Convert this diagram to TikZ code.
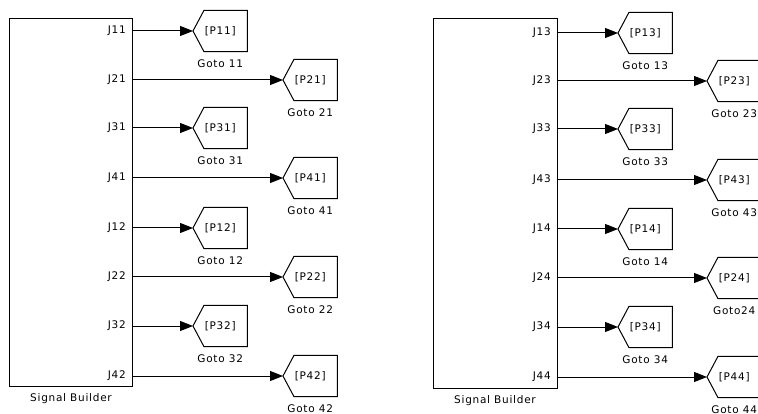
\documentclass[tikz,border=0pt]{standalone}
\usepackage{fontspec}
\newfontfamily\simfont[LetterSpace=7]{DejaVu Sans}
\usetikzlibrary{arrows.meta,positioning}
\tikzset{
  sigblk/.style={draw, line width=1pt, inner sep=0pt, anchor=north west},
  gotonode/.style={minimum width=54pt, minimum height=41pt, inner sep=0pt, anchor=west,
    font=\simfont\fontsize{10.5}{12}\selectfont},
  gotoshape/.style={draw, line width=1pt, line join=miter},
  wire/.style={draw, line width=1pt, -{Triangle[length=13pt,width=10pt]}},
  portlbl/.style={inner sep=0pt, anchor=east, font=\simfont\fontsize{10.5}{12}\selectfont},
  lbl/.style={inner sep=0pt, font=\simfont\fontsize{10.5}{12}\selectfont},
}
\begin{document}
\begin{tikzpicture}[x=1pt,y=-1pt]
\clip (0,0) rectangle (758,414);
\fill[white] (0,0) rectangle (758,414);
% Signal builder blocks
\node[sigblk, minimum width=123pt, minimum height=368pt] (sb1) at (9,18) {};
\node[sigblk, minimum width=124pt, minimum height=370pt] (sb2) at (433,18) {};
\node[lbl, anchor=base] (sbl1) at (71,401) {Signal Builder};
\node[lbl, anchor=base] (sbl2) at (495,403) {Signal Builder};
% left outputs
\foreach \pl/\y/\tx/\nm/\gl in {
  J11/31/193/P11/Goto 11, J21/80/283/P21/Goto 21, J31/128/193/P31/Goto 31, J41/178/283/P41/Goto 41,
  J12/228/193/P12/Goto 12, J22/277/283/P22/Goto 22, J32/326/193/P32/Goto 32, J42/376/283/P42/Goto 42}{
  \coordinate (o\nm) at (132,\y);
  \node[portlbl] (pl\nm) at (126,\y) {\pl};
  \node[gotonode] (g\nm) at (\tx,\y) {[\nm]};
  \draw[gotoshape] (g\nm.west) -- ([xshift=11pt]g\nm.north west) -- (g\nm.north east)
     -- (g\nm.south east) -- ([xshift=11pt]g\nm.south west) -- cycle;
  \draw[wire] (o\nm) -- (g\nm.west);
  \node[lbl, below=7.5pt of g\nm] (l\nm) {\gl};
}
% right outputs
\foreach \pl/\y/\tx/\nm/\gl in {
  J13/33/618/P13/Goto 13, J23/81/707/P23/Goto 23, J33/129/618/P33/Goto 33, J43/180/707/P43/Goto 43,
  J14/229/618/P14/Goto 14, J24/278/707/P24/Goto24, J34/327/618/P34/Goto 34, J44/377/707/P44/Goto 44}{
  \coordinate (o\nm) at (557,\y);
  \node[portlbl] (pl\nm) at (551,\y) {\pl};
  \node[gotonode] (g\nm) at (\tx,\y) {[\nm]};
  \draw[gotoshape] (g\nm.west) -- ([xshift=11pt]g\nm.north west) -- (g\nm.north east)
     -- (g\nm.south east) -- ([xshift=11pt]g\nm.south west) -- cycle;
  \draw[wire] (o\nm) -- (g\nm.west);
  \node[lbl, below=7.5pt of g\nm] (l\nm) {\gl};
}
\end{tikzpicture}
\end{document}
